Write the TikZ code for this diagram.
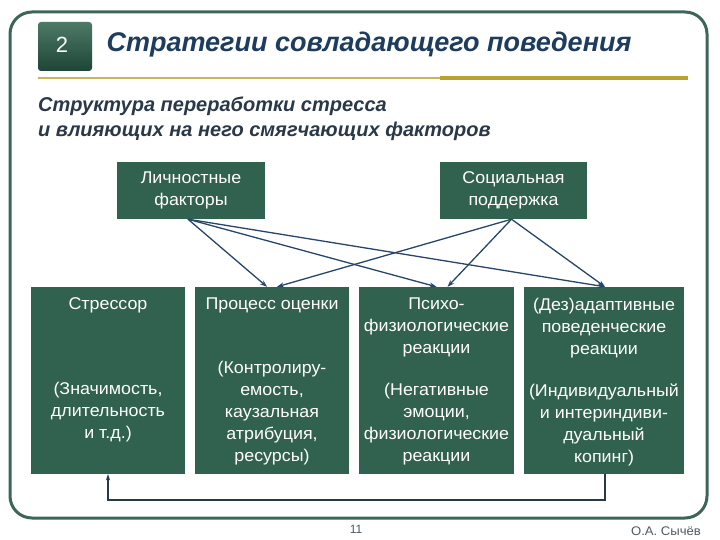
\documentclass[tikz,border=0pt]{standalone}
\usepackage{fontspec}
\setmainfont{Liberation Sans}
\newfontfamily\boxfont[FakeStretch=1.05]{Liberation Sans}
\usetikzlibrary{arrows.meta}
\definecolor{boxgreen}{HTML}{31614F}
\definecolor{framecol}{HTML}{3E6658}
\definecolor{titleblue}{HTML}{1E3C5E}
\definecolor{subcol}{HTML}{2A3848}
\definecolor{arrowcol}{HTML}{26466A}
\definecolor{goldline}{HTML}{B9A22E}
\definecolor{numtop}{HTML}{4C7A66}
\definecolor{numbot}{HTML}{1F4536}
\definecolor{footcol}{HTML}{505A64}
\begin{document}
\begin{tikzpicture}[x=1pt,y=-1pt,
  greenbox/.style={fill=boxgreen, draw=none, inner sep=0pt},
  boxtext/.style={text=white, font=\boxfont\fontsize{17}{22}\selectfont, align=center, inner sep=0pt},
  link/.style={draw=arrowcol, line width=1.3pt, -{Stealth[length=7pt,width=5pt]}},
  back/.style={draw=subcol, line width=1.5pt, -{Stealth[length=6pt,width=4pt]}}]
\useasboundingbox (0,0) rectangle (720,540);
\fill[white] (0,0) rectangle (720,540);
% frame
\draw[framecol, line width=3pt, rounded corners=22pt] (10,12) rectangle (707,518);
% number box
\shade[top color=numtop, bottom color=numbot, rounded corners=3pt] (38,22) rectangle (92,71);
\node[text=white, font=\fontsize{22}{22}\selectfont] (num) at (62,45) {2};
% title
\node[anchor=west, text=titleblue, font=\fontsize{27}{27}\bfseries\itshape] (title) at (103,45) {Стратегии совладающего поведения};
% gold line
\draw[goldline!80, line width=2pt] (38,78) -- (440,78);
\draw[goldline, line width=3.5pt] (440,78) -- (688,78);
% subtitle
\node[anchor=west, text=subcol, font=\fontsize{20}{20}\bfseries\itshape, inner sep=0pt] (sub1) at (38,106) {Структура переработки стресса};
\node[anchor=west, text=subcol, font=\fontsize{20}{20}\bfseries\itshape, inner sep=0pt] (sub2) at (38,131) {и влияющих на него смягчающих факторов};
% top boxes
\node[greenbox, minimum width=148pt, minimum height=57pt] (p) at (191,190.5) {};
\node[boxtext] (pt) at (p) {Личностные\\факторы};
\node[greenbox, minimum width=147pt, minimum height=57pt] (s) at (513.5,190.5) {};
\node[boxtext] (st) at (s) {Социальная\\поддержка};
% bottom boxes
\node[greenbox, minimum width=154pt, minimum height=187pt] (b1) at (108,380.5) {};
\node[greenbox, minimum width=154pt, minimum height=187pt] (b2) at (272,380.5) {};
\node[greenbox, minimum width=155pt, minimum height=187pt] (b3) at (436.5,380.5) {};
\node[greenbox, minimum width=160pt, minimum height=187pt] (b4) at (604,380.5) {};
\node[boxtext] (b1a) at (108,305) {Стрессор};
\node[boxtext] (b1b) at (108,412) {(Значимость,\\длительность\\и т.д.)};
\node[boxtext] (b2a) at (272,305) {Процесс оценки};
\node[boxtext] (b2b) at (272,413.5) {(Контролиру-\\емость,\\каузальная\\атрибуция,\\ресурсы)};
\node[boxtext] (b3a) at (436.5,327) {Психо-\\физиологические\\реакции};
\node[boxtext] (b3b) at (436.5,424.5) {(Негативные\\эмоции,\\физиологические\\реакции};
\node[boxtext] (b4a) at (604,328) {(Дез)адаптивные\\поведенческие\\реакции};
\node[boxtext] (b4b) at (604,424.5) {(Индивидуальный\\и интериндиви-\\дуальный\\копинг)};
% arrows
\draw[link] ([xshift=-3pt]p.south) -- ([xshift=-5pt]b2.north);
\draw[link] ([xshift=-3pt]p.south) -- ([xshift=0pt]b3.north);
\draw[link] ([xshift=-3pt]p.south) -- ([xshift=1pt]b4.north);
\draw[link] ([xshift=-2pt]s.south) -- ([xshift=5pt]b2.north);
\draw[link] ([xshift=-2pt]s.south) -- ([xshift=11pt]b3.north);
\draw[link] ([xshift=-2pt]s.south) -- ([xshift=1pt]b4.north);
% feedback
\coordinate (fb1) at (605,500);
\coordinate (fb2) at (108,500);
\draw[back] ([xshift=1pt]b4.south) -- (fb1) -- (fb2) -- (b1.south);
% footer
\node[text=footcol, font=\fontsize{12}{12}\selectfont] (pg) at (356,529) {11};
\node[text=footcol, font=\boxfont\fontsize{12.5}{12.5}\selectfont] (auth) at (666,531) {О.А. Сычёв};
\end{tikzpicture}
\end{document}
